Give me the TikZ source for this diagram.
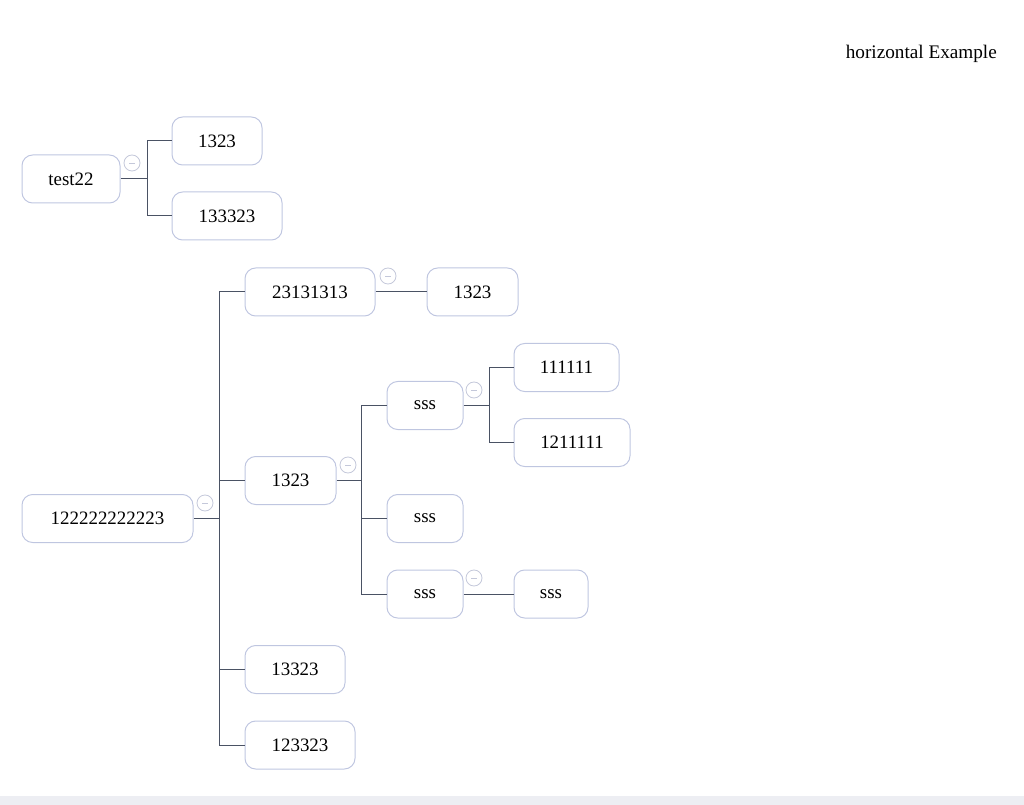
\documentclass[tikz,border=0pt]{standalone}
\usepackage{fontspec}
\setmainfont{Liberation Serif}
\definecolor{boxc}{RGB}{191,198,224}
\definecolor{linec}{RGB}{74,82,100}
\definecolor{togc}{RGB}{196,200,218}
\definecolor{stripc}{RGB}{237,238,243}
\tikzset{
	box/.style={draw=boxc,line width=0.75pt,rounded corners=8pt,minimum height=36pt,inner sep=0pt,font=\fontsize{14.2}{17}\selectfont},
	bw/.style={minimum width=#1*0.75pt},
	tog/.style={circle,draw=togc,line width=0.6pt,minimum size=12pt,inner sep=0pt,path picture={\draw[togc,line width=0.5pt] ([xshift=-2.2pt]path picture bounding box.center) -- ([xshift=2.2pt]path picture bounding box.center);}},
	link/.style={draw=linec,line width=0.75pt}
}
\begin{document}
\begin{tikzpicture}[x=0.75pt,y=-0.75pt]
	\useasboundingbox (0,0) rectangle (1024,805);
	\fill[stripc] (0,796) rectangle (1024,805);
	\node[anchor=east,inner sep=0pt,font=\fontsize{14.4}{17}\selectfont] (title) at (997,53.5) {horizontal Example};
	\node[box,bw=98] (test) at (71,179) {test22};
	\node[box,bw=90] (ta) at (217,141) {1323};
	\node[box,bw=110] (tb) at (227,216) {133323};
	\node[tog] (tt) at (132,163) {};
	\coordinate (bt) at (147,179);
	\draw[link] (test.east) -- (bt);
	\draw[link] (bt) |- (ta.west);
	\draw[link] (bt) |- (tb.west);
	\node[box,bw=171] (root) at (107.5,518.5) {122222222223};
	\node[tog] (tr) at (205,503) {};
	\node[box,bw=130] (ra) at (310,292) {23131313};
	\node[tog] (tra) at (388,276) {};
	\node[box,bw=91] (raa) at (472.5,292) {1323};
	\node[box,bw=91] (rb) at (290.5,480.5) {1323};
	\node[tog] (trb) at (348,465) {};
	\node[box,bw=76] (rba) at (425,405.5) {sss};
	\node[tog] (trba) at (474,390) {};
	\node[box,bw=105] (rbaa) at (566.5,367.5) {111111};
	\node[box,bw=116] (rbab) at (572,442.5) {1211111};
	\node[box,bw=76] (rbb) at (425,518.5) {sss};
	\node[box,bw=76] (rbc) at (425,594) {sss};
	\node[tog] (trbc) at (474,578) {};
	\node[box,bw=74] (rbca) at (551,594) {sss};
	\node[box,bw=100] (rc) at (295,669.5) {13323};
	\node[box,bw=110] (rd) at (300,745) {123323};
	\coordinate (br) at (219,518.5);
	\draw[link] (root.east) -- (br);
	\foreach \n in {ra,rb,rc,rd}
		\draw[link] (br) |- (\n.west);
	\draw[link] (ra.east) -- (raa.west);
	\coordinate (brb) at (361,480.5);
	\draw[link] (rb.east) -- (brb);
	\foreach \n in {rba,rbb,rbc}
		\draw[link] (brb) |- (\n.west);
	\coordinate (brba) at (489,405.5);
	\draw[link] (rba.east) -- (brba);
	\draw[link] (brba) |- (rbaa.west);
	\draw[link] (brba) |- (rbab.west);
	\draw[link] (rbc.east) -- (rbca.west);
\end{tikzpicture}
\end{document}
